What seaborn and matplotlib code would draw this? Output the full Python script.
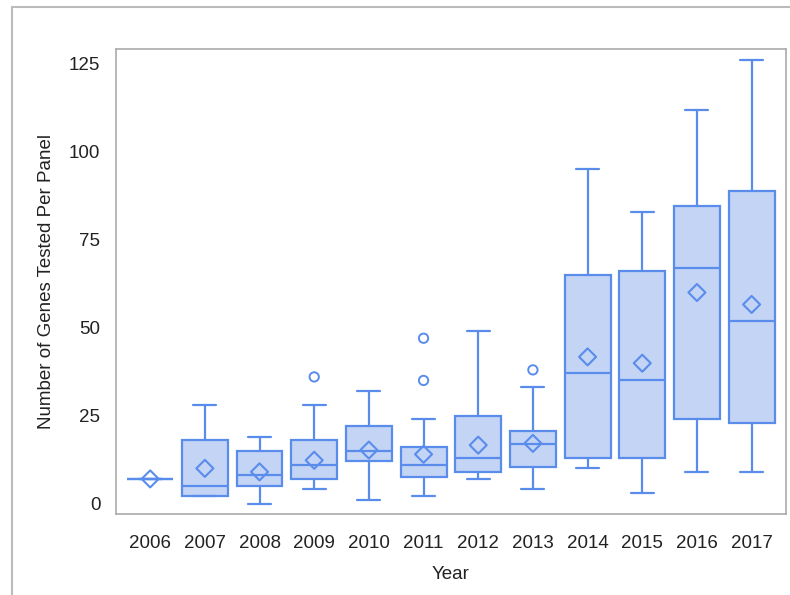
import numpy as np
import pandas as pd
import seaborn as sns
import matplotlib.pyplot as plt
from matplotlib.lines import Line2D

# ==============================
# Data
# ==============================
years = ["2006", "2007", "2008", "2009", "2010", "2011",
         "2012", "2013", "2014", "2015", "2016", "2017"]
whisker_low = [7, 2, 0, 4, 1, 2, 7, 4, 10, 3, 9, 9]
q1 = [7, 2, 5, 7, 12, 7.5, 9, 10.5, 13, 13, 24, 23]
median = [7, 5, 8, 11, 15, 11, 13, 17, 37, 35, 67, 52]
q3 = [7, 18, 15, 18, 22, 16, 25, 20.5, 65, 66, 84.5, 89]
whisker_high = [7, 28, 19, 28, 32, 24, 49, 33, 95, 83, 112, 126]
means = [7, 10, 9, 12.3, 15.2, 14, 16.6, 17.1, 41.7, 39.9, 60, 56.6]
outlier_year = ["2009", "2011", "2011", "2013"]
outlier_value = [36, 47, 35, 38]

fill_color = "#c3d4f5"
edge_color = "#5a8cec"

# ==============================
# Figure
# ==============================
sns.set_style("white")
plt.rcParams["font.family"] = ["Liberation Sans", "DejaVu Sans"]

fig = plt.figure(figsize=(7.9, 5.95), dpi=100)
ax = fig.add_axes([0.1465, 0.136, 0.8485, 0.782])

stats = []
for i, yr in enumerate(years):
    stats.append({
        "label": yr,
        "whislo": whisker_low[i],
        "q1": q1[i],
        "med": median[i],
        "q3": q3[i],
        "whishi": whisker_high[i],
        "fliers": [],
    })

ax.bxp(stats, positions=np.arange(len(years)), widths=0.84,
       patch_artist=True, showfliers=False, manage_ticks=False,
       boxprops=dict(facecolor=fill_color, edgecolor=edge_color, linewidth=1.6),
       medianprops=dict(color=edge_color, linewidth=1.6),
       whiskerprops=dict(color=edge_color, linewidth=1.6),
       capprops=dict(color=edge_color, linewidth=1.6),
       capwidths=0.42)

# means (diamonds) and outliers (circles), drawn on top of the boxes
mean_df = pd.DataFrame({"pos": np.arange(len(years)), "mean": means})
sns.scatterplot(data=mean_df, x="pos", y="mean", marker="D", s=75,
                facecolor="none", edgecolor=edge_color, linewidth=1.5,
                zorder=5, ax=ax)
out_df = pd.DataFrame({"pos": [years.index(y) for y in outlier_year],
                       "value": outlier_value})
sns.scatterplot(data=out_df, x="pos", y="value", marker="o", s=45,
                facecolor="none", edgecolor=edge_color, linewidth=1.4,
                zorder=5, ax=ax)

ax.set_xlim(-0.63, 11.63)
ax.set_ylim(-3, 129.3)
ax.set_xticks(np.arange(len(years)))
ax.set_xticklabels(years)
ax.set_yticks([0, 25, 50, 75, 100, 125])
ax.tick_params(axis="both", direction="out", length=6, width=1,
               color="#999999", labelsize=13.5, labelcolor="#222222")
ax.tick_params(axis="x", pad=9)
ax.tick_params(axis="y", pad=5)
ax.set_xlabel("Year", fontsize=13.5, color="#222222", labelpad=10)
ax.set_ylabel("Number of Genes Tested Per Panel", fontsize=13.5,
              color="#222222", labelpad=10)
for sp in ax.spines.values():
    sp.set_color("#aaaaaa")
    sp.set_linewidth(1.2)

# outer frame (top and left edges only)
fig.add_artist(Line2D([0.015, 1.0], [0.988, 0.988], color="#bbbbbb", lw=1.5))
fig.add_artist(Line2D([0.015, 0.015], [0.0, 0.988], color="#bbbbbb", lw=1.5))

fig.savefig("out.png", dpi=100)
